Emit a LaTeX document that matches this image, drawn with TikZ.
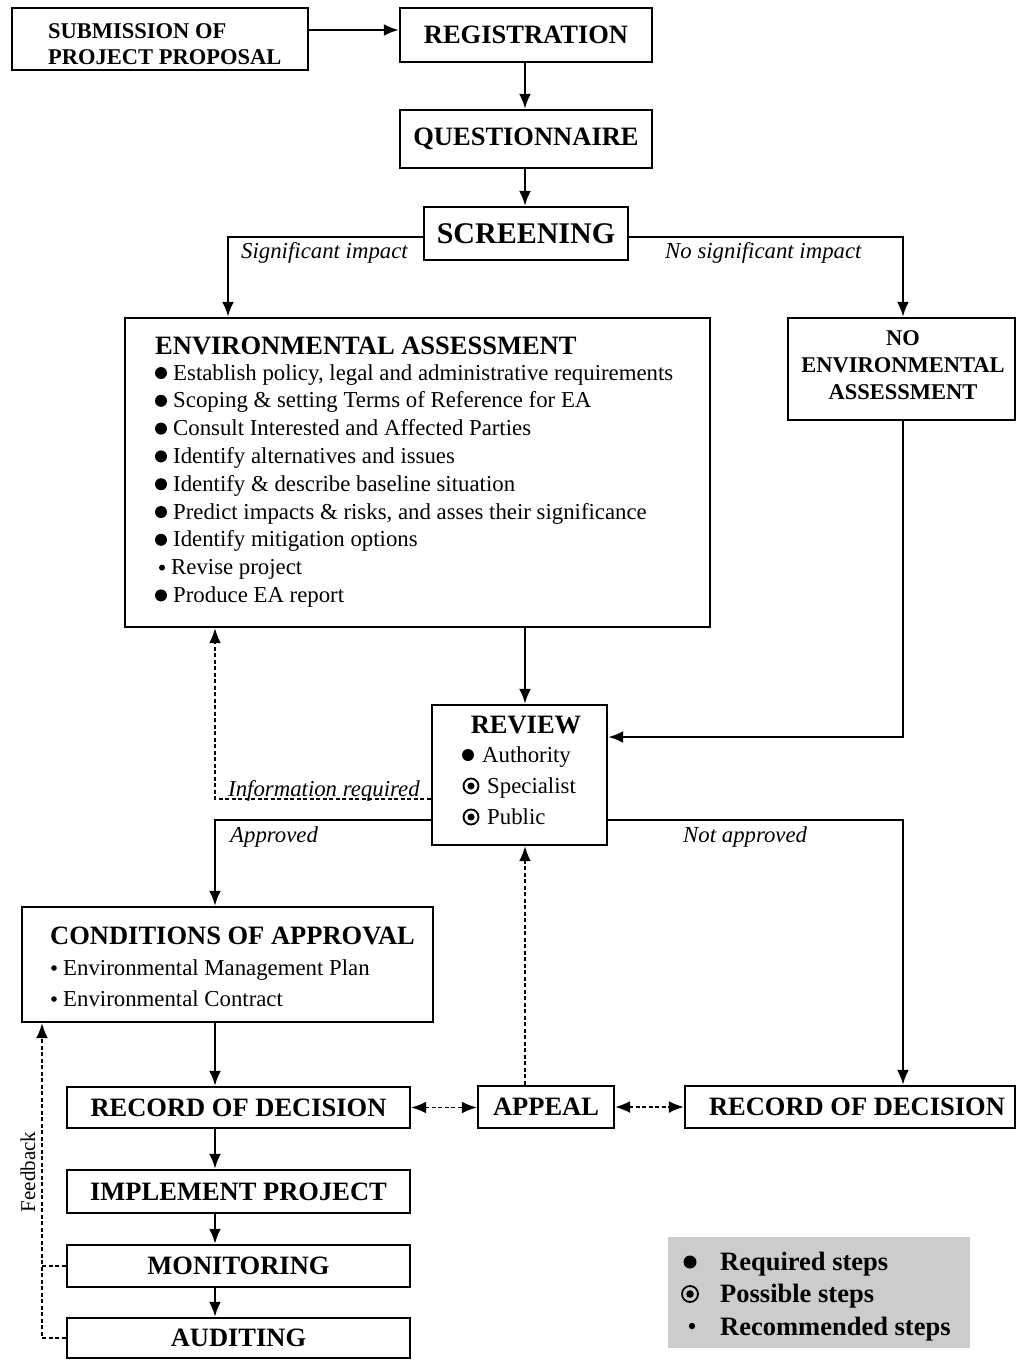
\documentclass[tikz,border=0pt]{standalone}
\usepackage{fontspec}
\setmainfont{Liberation Serif}
\usetikzlibrary{arrows.meta}
\tikzset{
  box/.style={draw, line width=2.4pt, rectangle, inner sep=0pt},
  ttl/.style={font=\bfseries\fontsize{26.5}{30}\selectfont},
  sttl/.style={font=\bfseries\fontsize{22.5}{27}\selectfont, inner sep=0pt},
  itm/.style={font=\fontsize{22.8}{27}\selectfont, inner sep=0pt, anchor=base west},
  lbl/.style={font=\itshape\fontsize{22.8}{27}\selectfont, inner sep=0pt, anchor=base west},
  legt/.style={font=\bfseries\fontsize{26.5}{30}\selectfont, inner sep=0pt, anchor=base west},
  arr/.style={line width=2.4pt, -{Latex[length=15pt,width=12pt]}},
  darr/.style={line width=1.8pt, dash pattern=on 4pt off 2.5pt, -{Latex[length=15pt,width=12pt]}},
  ddarr/.style={line width=1.8pt, dash pattern=on 4pt off 2.5pt, {Latex[length=15pt,width=12pt]}-{Latex[length=15pt,width=12pt]}},
  dln/.style={line width=1.8pt, dash pattern=on 4pt off 2.5pt},
}
\begin{document}
\begin{tikzpicture}[x=1pt,y=-1pt]
\useasboundingbox (0,0) rectangle (1017,1360);

% legend background
\node[fill=gray!40, minimum width=302, minimum height=111, inner sep=0pt] (leg) at (819,1292.5) {};

% boxes
\node[box, minimum width=296, minimum height=62] (sub) at (160,39) {};
\node[sttl, anchor=base west] (subt1) at (48,38) {SUBMISSION OF};
\node[sttl, anchor=base west] (subt2) at (48,64) {PROJECT PROPOSAL};
\node[box, ttl, minimum width=252, minimum height=54] (reg) at (526,35) {REGISTRATION};
\node[box, ttl, minimum width=252, minimum height=58] (q) at (526,139) {QUESTIONNAIRE};
\node[box, font=\bfseries\fontsize{30}{34}\selectfont, minimum width=204, minimum height=53] (scr) at (526,233.5) {SCREENING};

% Environmental assessment
\node[box, minimum width=585, minimum height=309] (ea) at (417.5,472.5) {};
\node[ttl, inner sep=0pt, anchor=base west] (eat) at (155,354) {ENVIRONMENTAL ASSESSMENT};
\node[itm] (ea1) at (173,380) {Establish policy, legal and administrative requirements};
\node[itm] (ea2) at (173,407.8) {Scoping \& setting Terms of Reference for EA};
\node[itm] (ea3) at (173,435.6) {Consult Interested and Affected Parties};
\node[itm] (ea4) at (173,463.4) {Identify alternatives and issues};
\node[itm] (ea5) at (173,491.2) {Identify \& describe baseline situation};
\node[itm] (ea6) at (173,519) {Predict impacts \& risks, and asses their significance};
\node[itm] (ea7) at (173,546.8) {Identify mitigation options};
\node[itm] (ea8) at (171,574.6) {Revise project};
\node[itm] (ea9) at (173,602.4) {Produce EA report};
\foreach \yy in {380,407.8,435.6,463.4,491.2,519,546.8,602.4}
  \fill (161,\yy-7) circle[radius=6pt];
\fill (162,574.6-7) circle[radius=3pt];

% No EA
\node[box, minimum width=227, minimum height=102] (noea) at (901.5,369) {};
\node[sttl, anchor=base] (noea1) at (903,345) {NO};
\node[sttl, anchor=base] (noea2) at (903,372) {ENVIRONMENTAL};
\node[sttl, anchor=base] (noea3) at (903,399) {ASSESSMENT};

% Review
\node[box, minimum width=175, minimum height=140] (rev) at (519.5,775) {};
\node[ttl, inner sep=0pt, anchor=base] (revt) at (526,733) {REVIEW};
\node[itm] (rev1) at (482,762) {Authority};
\node[itm] (rev2) at (487,793) {Specialist};
\node[itm] (rev3) at (487,824) {Public};
\fill (468,755) circle[radius=6pt];
\draw[line width=1.8pt] (471,786) circle[radius=7.5pt];
\fill (471,786) circle[radius=3.5pt];
\draw[line width=1.8pt] (471,817) circle[radius=7.5pt];
\fill (471,817) circle[radius=3.5pt];

% Conditions of approval
\node[box, minimum width=411, minimum height=115] (cond) at (227.5,964.5) {};
\node[ttl, inner sep=0pt, anchor=base west] (condt) at (50,944) {CONDITIONS OF APPROVAL};
\node[itm] (cond1) at (63,975) {Environmental Management Plan};
\node[itm] (cond2) at (63,1006) {Environmental Contract};
\fill (54,968) circle[radius=2.8pt];
\fill (54,999) circle[radius=2.8pt];

% lower boxes
\node[box, ttl, minimum width=343, minimum height=41] (rodL) at (238.5,1107.5) {RECORD OF DECISION};
\node[box, ttl, minimum width=136, minimum height=42] (appeal) at (546,1107) {APPEAL};
\node[box, ttl, minimum width=330, minimum height=42] (rodR) at (850,1107) {\hspace{14pt}RECORD OF DECISION};
\node[box, ttl, minimum width=343, minimum height=43] (impl) at (238.5,1191.5) {IMPLEMENT PROJECT};
\node[box, ttl, minimum width=343, minimum height=42] (mon) at (238.5,1266) {MONITORING};
\node[box, ttl, minimum width=343, minimum height=40] (aud) at (238.5,1338) {AUDITING};

% legend
\fill (690,1262) circle[radius=6.5pt];
\node[legt] (leg1) at (720,1270) {Required steps};
\draw[line width=1.8pt] (690,1294) circle[radius=8pt];
\fill (690,1294) circle[radius=3.8pt];
\node[legt] (leg2) at (720,1302) {Possible steps};
\fill (692,1326) circle[radius=3.2pt];
\node[legt] (leg3) at (720,1335) {Recommended steps};

% labels
\node[lbl] (lsig) at (241,258) {Significant impact};
\node[lbl] (lnosig) at (665,258) {No significant impact};
\node[lbl] (linfo) at (228,796) {Information required};
\node[lbl] (lapp) at (230,842) {Approved};
\node[lbl] (lnot) at (683,842) {Not approved};
\node[font=\fontsize{21}{25}\selectfont, rotate=90, inner sep=0pt] (fb) at (28,1172) {Feedback};

% helper coordinates
\coordinate (cL) at (215,0);
\coordinate (cR) at (903,0);
\coordinate (cS) at (228,0);
\coordinate (cF) at (42,0);
\coordinate (cM) at (525,0);
\coordinate (yA) at (0,30);
\coordinate (yS) at (0,237);
\coordinate (yN) at (0,737);
\coordinate (yI) at (0,799);
\coordinate (yP) at (0,820);

% connectors
\draw[arr] (sub.east |- yA) -- (reg.west |- yA);
\draw[arr] (reg.south -| cM) -- (q.north -| cM);
\draw[arr] (q.south -| cM) -- (scr.north -| cM);
\draw[arr] (scr.west |- yS) -| (ea.north -| cS);
\draw[arr] (scr.east |- yS) -| (noea.north -| cR);
\draw[arr] (ea.south -| cM) -- (rev.north -| cM);
\draw[arr] (noea.south -| cR) |- (rev.east |- yN);
\draw[darr] (rev.west |- yI) -| (ea.south -| cL);
\draw[arr] (rev.west |- yP) -| (cond.north -| cL);
\draw[arr] (rev.east |- yP) -| (rodR.north -| cR);
\draw[arr] (cond.south -| cL) -- (rodL.north -| cL);
\draw[ddarr] (rodL.east) -- (appeal.west |- rodL.east);
\draw[ddarr] (appeal.east) -- (rodR.west |- appeal.east);
\draw[darr] (appeal.north -| cM) -- (rev.south -| cM);
\draw[arr] (rodL.south -| cL) -- (impl.north -| cL);
\draw[arr] (impl.south -| cL) -- (mon.north -| cL);
\draw[arr] (mon.south -| cL) -- (aud.north -| cL);
\draw[darr] (aud.west) -| (cond.south -| cF);
\draw[dln] (mon.west) -- (mon.west -| cF);
\end{tikzpicture}
\end{document}
